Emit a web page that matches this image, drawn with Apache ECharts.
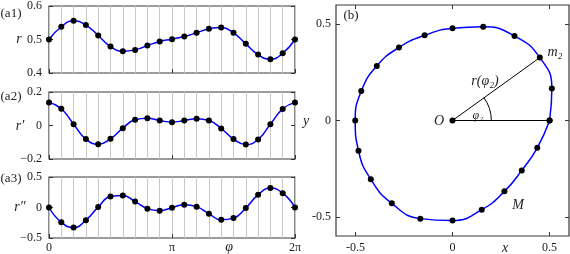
<!DOCTYPE html>
<html><head><meta charset="utf-8">
<script src="https://cdn.jsdelivr.net/npm/echarts@6/dist/echarts.min.js"></script>
<style>html,body{margin:0;padding:0;background:#fff}#c{width:570px;height:254px}</style>
</head><body><div id="c"></div>
<script>
// sampling angles (degrees)
const phiDeg = [0,18,36,54,72,90,108,126,144,162,180,198,216,234,252,270,288,306,324,342,360];
// r(phi)
const rVals = [0.500,0.538,0.556,0.543,0.512,0.479,0.465,0.469,0.482,0.494,0.501,0.509,0.520,0.532,0.536,0.520,0.487,0.455,0.441,0.459,0.500];
// r'(phi)
const drVals = [0.138,0.100,0.008,-0.081,-0.112,-0.079,-0.016,0.034,0.043,0.030,0.020,0.030,0.041,0.030,-0.018,-0.081,-0.114,-0.083,0.008,0.099,0.138];
// r''(phi)
const ddrVals = [0.000,-0.243,-0.329,-0.207,0.008,0.180,0.196,0.097,-0.019,-0.052,-0.003,0.047,0.014,-0.102,-0.202,-0.174,-0.008,0.207,0.318,0.235,0.000];
// tick labels
const phiTickVals = [0, Math.PI, 2*Math.PI];
const phiTickLabels = ['0','π','2π'];
const bTickVals = [-0.5, 0, 0.5];
const bTickLabels = ['-0.5','0','0.5'];
const highlightIndex = 2; // m2
const arcRadius = 0.2;

const rad = d => d*Math.PI/180;
const SERIF = 'Liberation Serif';
const LBL = {color:'#222', fontFamily:SERIF, fontSize:12};
const minusFmt = v => (v<0?'\u2212':'') + String(Math.abs(Math.round(v*10)/10));
const NOLINE = {show:false, onZero:false};

const panels = [
  {vals:rVals, min:0.4, max:0.6, interval:0.1, fmt:v=>(Math.round(v*10)/10).toFixed(1)},
  {vals:drVals, min:-0.2, max:0.2, interval:0.2, fmt:minusFmt},
  {vals:ddrVals, min:-0.5, max:0.5, interval:0.5, fmt:minusFmt}
];
const grids = [
  {left:49, top:5, width:246, height:68},
  {left:49, top:92, width:246, height:67},
  {left:49, top:177, width:246, height:61},
  {left:336, top:5, width:233, height:232}
].map(g=>Object.assign({show:true, borderColor:'#3a3a3a', borderWidth:1.2, backgroundColor:'rgba(0,0,0,0)'}, g));

const xAxis=[], yAxis=[], series=[];
const tickStyle = {show:true, inside:true, length:4, lineStyle:{color:'#333', width:1}};
const pick = (vals, labels) => v => {const k=vals.findIndex(t=>Math.abs(t-v)<1e-6);return k>=0?labels[k]:'';};
panels.forEach((p,i)=>{
  xAxis.push({type:'value', gridIndex:i, position:'top', min:0, max:2*Math.PI, interval:2*Math.PI/20,
    axisLine:NOLINE, axisTick:{show:false}, axisLabel:{show:false},
    splitLine:{show:true, lineStyle:{color:'#c8c8c8', width:1}}});
  xAxis.push({type:'value', gridIndex:i, position:'bottom', min:0, max:2*Math.PI,
    axisLine:NOLINE, axisTick:Object.assign({customValues:phiTickVals}, tickStyle),
    axisLabel:Object.assign({show:i===2, customValues:phiTickVals, margin:4, formatter:pick(phiTickVals, phiTickLabels)}, LBL),
    splitLine:{show:false}});
  yAxis.push({type:'value', gridIndex:i, min:p.min, max:p.max, interval:p.interval,
    axisLine:NOLINE, axisTick:tickStyle, axisLabel:Object.assign({margin:7, formatter:p.fmt}, LBL),
    splitLine:{show:false}});
  yAxis.push({type:'value', gridIndex:i, position:'right', min:p.min, max:p.max, interval:p.interval,
    axisLine:NOLINE, axisTick:tickStyle, axisLabel:{show:false}, splitLine:{show:false}});
  series.push({type:'line', xAxisIndex:2*i+1, yAxisIndex:2*i, smooth:0.5,
    data:phiDeg.map((d,k)=>[rad(d), p.vals[k]]),
    symbol:'circle', symbolSize:6, itemStyle:{color:'#000'},
    lineStyle:{color:'#0000ff', width:1.5}, z:3, animation:false});
});
// panel b axes
xAxis.push({type:'value', gridIndex:3, position:'bottom', min:-0.6, max:0.6,
  axisLine:NOLINE, axisTick:Object.assign({customValues:bTickVals}, tickStyle),
  axisLabel:Object.assign({customValues:bTickVals, margin:6, formatter:pick(bTickVals, bTickLabels)}, LBL),
  splitLine:{show:false}});
xAxis.push({type:'value', gridIndex:3, position:'top', min:-0.6, max:0.6,
  axisLine:NOLINE, axisTick:Object.assign({customValues:bTickVals}, tickStyle),
  axisLabel:{show:false}, splitLine:{show:false}});
yAxis.push({type:'value', gridIndex:3, position:'left', min:-0.6, max:0.6,
  axisLine:NOLINE, axisTick:Object.assign({customValues:bTickVals}, tickStyle),
  axisLabel:Object.assign({customValues:bTickVals, margin:5, formatter:pick(bTickVals, bTickLabels)}, LBL),
  splitLine:{show:false}});
yAxis.push({type:'value', gridIndex:3, position:'right', min:-0.6, max:0.6,
  axisLine:NOLINE, axisTick:Object.assign({customValues:bTickVals}, tickStyle),
  axisLabel:{show:false}, splitLine:{show:false}});

const curve = phiDeg.map((d,k)=>[rVals[k]*Math.cos(rad(d)), rVals[k]*Math.sin(rad(d))]);
series.push({type:'line', xAxisIndex:6, yAxisIndex:6, smooth:0.5, data:curve,
  symbol:'circle', symbolSize:6, itemStyle:{color:'#000'},
  lineStyle:{color:'#0000ff', width:1.5}, z:3, animation:false});
const phi2 = rad(phiDeg[highlightIndex]);
const m2 = [rVals[highlightIndex]*Math.cos(phi2), rVals[highlightIndex]*Math.sin(phi2)];
series.push({type:'line', xAxisIndex:6, yAxisIndex:6,
  data:[{value:[0,0], symbol:'circle', symbolSize:6}, {value:m2, symbol:'none'}],
  itemStyle:{color:'#000'}, lineStyle:{color:'#000', width:1}, z:4, animation:false});
series.push({type:'line', xAxisIndex:6, yAxisIndex:6, symbol:'none',
  data:[[0,0],[rVals[0],0]], lineStyle:{color:'#000', width:1}, z:4, animation:false});
series.push({type:'custom', xAxisIndex:6, yAxisIndex:6, data:[[0,0]], animation:false, z:4,
  renderItem:(params, api)=>{
    const c = api.coord([0,0]);
    const s = api.size([arcRadius, arcRadius]);
    return {type:'arc', shape:{cx:c[0], cy:c[1], r:s[0], startAngle:-phi2, endAngle:0, clockwise:true},
      style:{stroke:'#000', fill:null, lineWidth:1}};
  }});

const T = (x,y,text,opt)=>({type:'text', x, y, style:Object.assign({text, fill:'#222', fontFamily:SERIF, fontSize:13, align:'center', verticalAlign:'middle'}, opt||{})});
const IT = {fontStyle:'italic', fontSize:14};
const graphic = [
  T(11,14,'(a1)'), T(11,97,'(a2)'), T(11,179,'(a3)'),
  T(19,39,'r',IT), T(20,126,'r′',IT), T(20,207,'r″',IT),
  T(229,247,'φ',IT),
  T(351,16,'(b)'),
  T(306,121,'y',IT), T(505,248,'x',IT),
  T(439,121,'O',IT),
  T(478,116,'φ₂',{fontStyle:'italic', fontSize:12}),
  T(485,81,'r(φ₂)',IT),
  T(555,52,'m₂',IT),
  T(518,205,'M',IT)
];

const chart = echarts.init(document.getElementById('c'), null, {renderer:'canvas'});
chart.setOption({animation:false, grid:grids, xAxis, yAxis, series, graphic});
</script></body></html>
